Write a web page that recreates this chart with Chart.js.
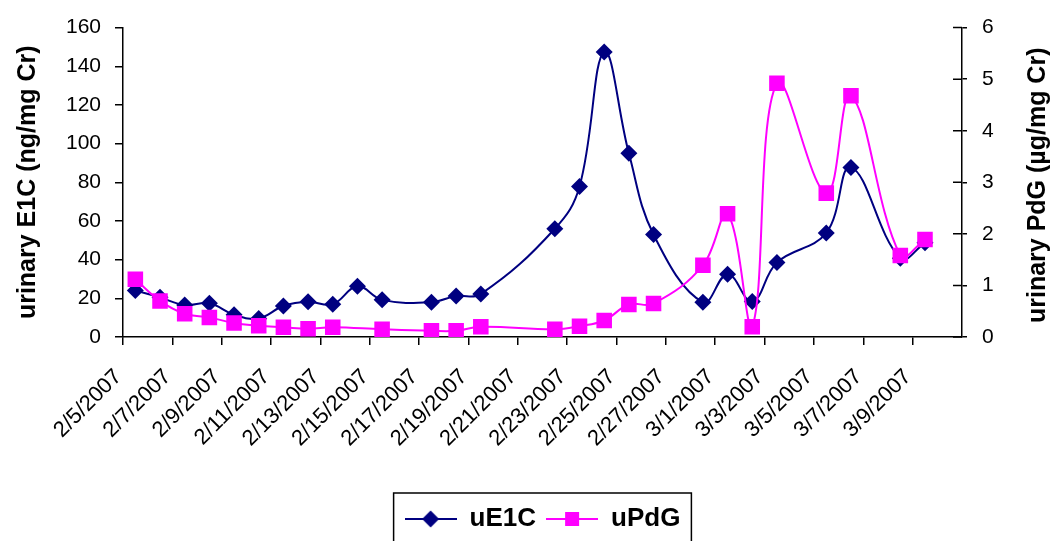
<!DOCTYPE html>
<html>
<head>
<meta charset="utf-8">
<script src="https://cdn.jsdelivr.net/npm/chart.js@4.4.1/dist/chart.umd.min.js"></script>
<style>
  html, body { margin: 0; padding: 0; background: #fff; overflow: hidden; }
  #wrap { width: 1050px; height: 550px; position: relative; }
</style>
</head>
<body>
<div id="wrap"><canvas id="c"></canvas></div>
<script>
// One slot per calendar day, 2/5/2007 through 3/10/2007
const dates = [
  '2/5/2007','2/6/2007','2/7/2007','2/8/2007','2/9/2007','2/10/2007','2/11/2007','2/12/2007',
  '2/13/2007','2/14/2007','2/15/2007','2/16/2007','2/17/2007','2/18/2007','2/19/2007','2/20/2007',
  '2/21/2007','2/22/2007','2/23/2007','2/24/2007','2/25/2007','2/26/2007','2/27/2007','2/28/2007',
  '3/1/2007','3/2/2007','3/3/2007','3/4/2007','3/5/2007','3/6/2007','3/7/2007','3/8/2007',
  '3/9/2007','3/10/2007'
];

// Dates that carry a printed axis label (every second day)
const tickDates = [
  '2/5/2007','2/7/2007','2/9/2007','2/11/2007','2/13/2007','2/15/2007','2/17/2007','2/19/2007',
  '2/21/2007','2/23/2007','2/25/2007','2/27/2007','3/1/2007','3/3/2007','3/5/2007','3/7/2007','3/9/2007'
];

// urinary E1C, ng/mg Cr (null = no sample that day)
const uE1C = [
  24, 20.5, 16.5, 17.4, 11.5, 9.6, 16, 18.2,
  17, 26.2, 19.2, null, 18, 21.2, 22.2, null,
  null, 56, 77.8, 147.4, 95, 53, null, 18,
  32.5, 18.3, 38.5, null, 53.8, 87.7, null, 40.7,
  48.7, null
];

// urinary PdG, µg/mg Cr
const uPdG = [
  1.12, 0.70, 0.45, 0.38, 0.27, 0.22, 0.19, 0.16,
  0.19, null, 0.15, null, 0.12, 0.12, 0.20, null,
  null, 0.15, 0.21, 0.32, 0.63, 0.65, null, 1.39,
  2.39, 0.20, 4.92, null, 2.79, 4.68, null, 1.58,
  1.89, null
];

const FONT = "'Liberation Sans', Arial, sans-serif";
const NAVY = '#000080';
const MAGENTA = '#FF00FF';

// Legend symbols: a short line with the series marker in the middle
function makeSample(color, shape) {
  const c = document.createElement('canvas');
  c.width = 52; c.height = 24;
  const g = c.getContext('2d');
  g.strokeStyle = color; g.lineWidth = 2;
  g.beginPath(); g.moveTo(0, 12); g.lineTo(52, 12); g.stroke();
  g.fillStyle = color;
  if (shape === 'diamond') {
    g.beginPath();
    g.moveTo(26, 3.5); g.lineTo(34.5, 12); g.lineTo(26, 20.5); g.lineTo(17.5, 12);
    g.closePath(); g.fill();
  } else {
    g.fillRect(19, 5, 14, 14);
  }
  return c;
}
const samples = [makeSample(NAVY, 'diamond'), makeSample(MAGENTA, 'square')];

// Frame round the legend, inward tick marks on the right axis, right axis title
const extras = {
  id: 'extras',
  afterDraw(chart) {
    const ctx = chart.ctx;
    const ca = chart.chartArea;
    ctx.save();
    ctx.strokeStyle = '#000';
    ctx.lineWidth = 1.5;

    const y1 = chart.scales.y1;
    ctx.beginPath();
    y1.ticks.forEach(t => {
      const py = y1.getPixelForValue(t.value);
      ctx.moveTo(y1.left - 9, py);
      ctx.lineTo(y1.left, py);
    });
    ctx.stroke();

    const boxes = chart.legend.legendHitBoxes;
    if (boxes && boxes.length) {
      const first = boxes[0], last = boxes[boxes.length - 1];
      const left = first.left - 11;
      const right = last.left + last.width + 11;
      const top = first.top - 13;
      ctx.strokeRect(left, top, right - left, 52);
    }

    ctx.fillStyle = '#000';
    ctx.font = 'bold 25px ' + FONT;
    ctx.textAlign = 'center';
    ctx.textBaseline = 'middle';
    ctx.translate(1038, (ca.top + ca.bottom) / 2 + 3);
    ctx.rotate(-Math.PI / 2);
    ctx.fillText('urinary PdG (µg/mg Cr)', 0, 0);
    ctx.restore();
  }
};

new Chart(document.getElementById('c'), {
  type: 'line',
  data: {
    labels: dates,
    datasets: [
      {
        label: 'uE1C',
        data: uE1C,
        yAxisID: 'y',
        borderColor: NAVY,
        backgroundColor: NAVY,
        borderWidth: 2,
        pointStyle: 'rectRot',
        pointRadius: 8.5,
        pointBorderWidth: 0,
        tension: 0.4,
        spanGaps: true
      },
      {
        label: 'uPdG',
        data: uPdG,
        yAxisID: 'y1',
        borderColor: MAGENTA,
        backgroundColor: MAGENTA,
        borderWidth: 2,
        pointStyle: 'rect',
        pointRadius: 11,
        pointBorderWidth: 0,
        tension: 0.4,
        spanGaps: true,
        order: -1
      }
    ]
  },
  options: {
    responsive: true,
    maintainAspectRatio: false,
    animation: false,
    layout: { padding: { top: 25, right: 0, bottom: 8, left: 0 } },
    plugins: {
      tooltip: { enabled: false },
      legend: {
        position: 'bottom',
        fullSize: false,
        labels: {
          usePointStyle: true,
          pointStyleWidth: 52,
          padding: 10,
          color: '#000',
          font: { family: FONT, size: 26, weight: 'bold' },
          generateLabels: chart => chart.data.datasets.map((ds, i) => ({
            text: ds.label,
            pointStyle: samples[i],
            fillStyle: ds.backgroundColor,
            strokeStyle: ds.borderColor,
            lineWidth: 0,
            hidden: false,
            datasetIndex: i,
            fontColor: '#000'
          }))
        }
      }
    },
    scales: {
      x: {
        type: 'category',
        offset: true,
        grid: {
          offset: true,
          drawOnChartArea: false,
          tickLength: 8,
          lineWidth: 1.5,
          color: c => (c.index % 2 === 0 ? '#000' : 'rgba(0,0,0,0)')
        },
        border: { color: '#000', width: 1.5 },
        ticks: {
          autoSkip: false,
          minRotation: 45,
          maxRotation: 45,
          padding: 19,
          labelOffset: -17,
          color: '#000',
          font: { family: FONT, size: 22 },
          callback: function (v, i) {
            const d = dates[i];
            return tickDates.includes(d) ? d : '';
          }
        },
        afterFit: s => { s.height = 159; }
      },
      y: {
        position: 'left',
        min: 0,
        max: 160,
        ticks: { stepSize: 20, padding: 14, color: '#000', font: { family: FONT, size: 21 } },
        grid: { drawOnChartArea: false, tickLength: 8, lineWidth: 1.5, color: '#000' },
        border: { color: '#000', width: 1.5 },
        title: {
          display: true,
          text: 'urinary E1C (ng/mg Cr)',
          color: '#000',
          font: { family: FONT, size: 25, weight: 'bold', lineHeight: 1 },
          padding: { top: 15.5, bottom: 0 }
        },
        afterFit: s => { s.width = 123; }
      },
      y1: {
        position: 'right',
        min: 0,
        max: 6,
        ticks: { stepSize: 1, padding: 15, color: '#000', font: { family: FONT, size: 21 } },
        grid: { drawOnChartArea: false, tickLength: 5, lineWidth: 1.5, color: '#000' },
        border: { color: '#000', width: 1.5 },
        afterFit: s => { s.width = 88; }
      }
    }
  },
  plugins: [extras]
});
</script>
</body>
</html>
